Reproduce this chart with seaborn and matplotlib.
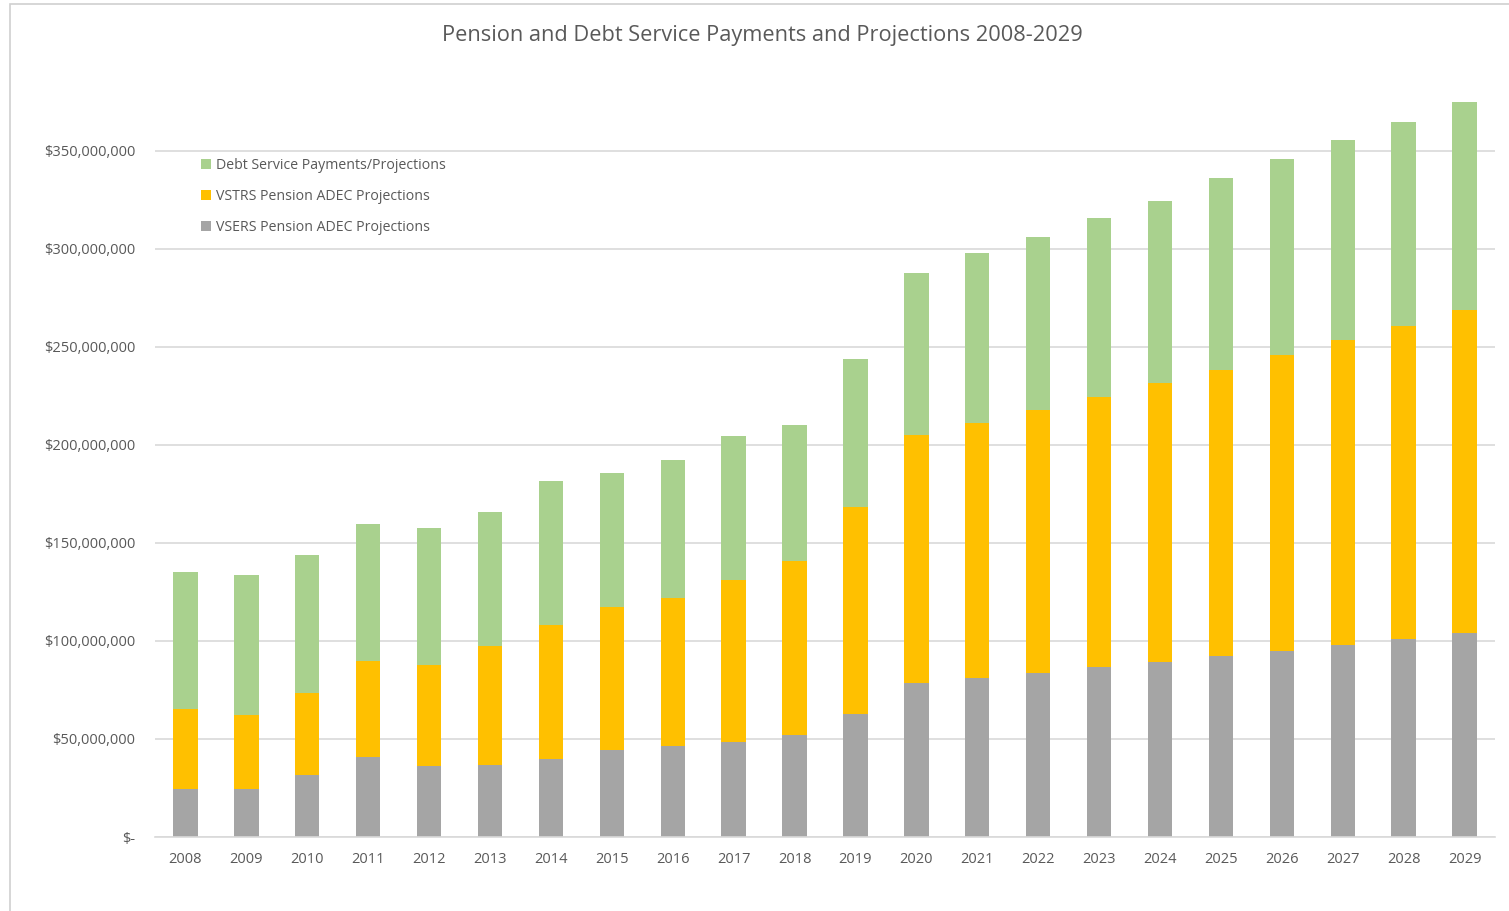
import numpy as np
import pandas as pd
import seaborn as sns
import matplotlib.pyplot as plt
from matplotlib.patches import Rectangle
from matplotlib.ticker import FuncFormatter

# Values in millions of dollars
years = [str(y) for y in range(2008, 2030)]
vsers = [24.5, 24.5, 31.6, 40.8, 36.2, 36.7, 39.8, 44.4, 46.4, 48.5, 52.0,
         62.8, 78.6, 81.1, 83.7, 86.7, 89.3, 92.3, 94.9, 98.0, 101.0, 104.1]
vstrs = [40.8, 37.7, 41.9, 49.0, 51.6, 60.7, 68.4, 72.9, 75.5, 82.6, 88.8,
         105.6, 126.5, 130.1, 134.2, 137.8, 142.3, 146.0, 151.0, 155.6, 159.7, 164.8]
debt = [69.9, 71.5, 70.4, 69.9, 69.9, 68.4, 73.4, 68.4, 70.4, 73.5, 69.4,
        75.5, 82.7, 86.8, 88.2, 91.3, 92.9, 97.9, 100.0, 102.0, 104.1, 106.1]

labels = ["Debt Service Payments/Projections",
          "VSTRS Pension ADEC Projections",
          "VSERS Pension ADEC Projections"]
colors = ["#A9D18E", "#FFC000", "#A5A5A5"]

# stacked totals, drawn back to front
df = pd.DataFrame({"year": years,
                   "vsers": np.array(vsers) * 1e6,
                   "vstrs": (np.array(vsers) + np.array(vstrs)) * 1e6,
                   "debt": (np.array(vsers) + np.array(vstrs) + np.array(debt)) * 1e6})

sns.set_style("white")
plt.rcParams['font.family'] = ['Open Sans', 'DejaVu Sans']
text_col = "#595959"

fig = plt.figure(figsize=(15.09, 9.11), dpi=100)
ax = fig.add_axes([155 / 1509, 1 - 837 / 911, 1340 / 1509, 745 / 911])

for col, lab, c in zip(["debt", "vstrs", "vsers"], labels, colors):
    sns.barplot(data=df, x="year", y=col, color=c, width=0.4, label=lab,
                saturation=1, edgecolor="none", linewidth=0, ax=ax)

ax.set_xlim(-0.5, 21.5)
ax.set_ylim(0, 380e6)
ax.set_yticks(np.arange(0, 351e6, 50e6))
ax.yaxis.set_major_formatter(FuncFormatter(lambda v, p: "$-" if v == 0 else f"${v:,.0f}"))
ax.grid(axis="y", color="#D9D9D9", linewidth=1.2)
ax.set_axisbelow(True)
for s in ["top", "right", "left"]:
    ax.spines[s].set_visible(False)
ax.spines["bottom"].set_color("#D9D9D9")
ax.spines["bottom"].set_linewidth(1.2)
ax.tick_params(axis="y", length=0, pad=14, labelsize=10.5, labelcolor=text_col)
ax.tick_params(axis="x", length=0, pad=11, labelsize=10.5, labelcolor=text_col)
ax.set_xlabel("")
ax.set_ylabel("")

leg = ax.legend(loc="upper left", bbox_to_anchor=(0.025, 0.928), frameon=False,
                fontsize=10.2, handlelength=0.7, handleheight=0.7, handletextpad=0.35,
                labelspacing=1.1)
for t in leg.get_texts():
    t.set_color(text_col)

fig.text(762 / 1509, 1 - 35 / 911, "Pension and Debt Service Payments and Projections 2008-2029",
         ha="center", va="center", fontsize=15.7, color=text_col)

fig.patches.append(Rectangle((10 / 1509, -0.05), 1.2, 1 - 4 / 911 + 0.05,
                             transform=fig.transFigure, fill=False,
                             edgecolor="#D0D0D0", linewidth=1.2))

fig.savefig("out.png", dpi=100)
